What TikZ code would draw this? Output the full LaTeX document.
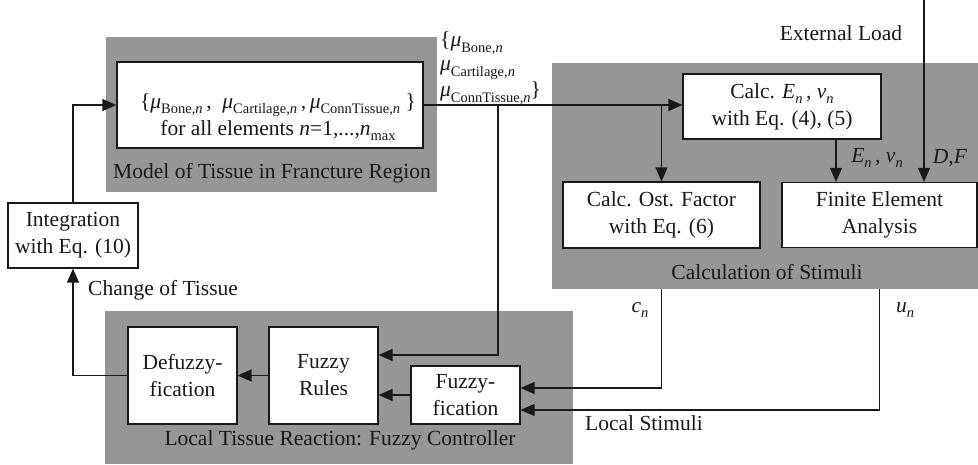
\documentclass[tikz,border=0pt]{standalone}
\usepackage{fontspec}
\setmainfont{Liberation Serif}
\usetikzlibrary{arrows.meta}
\definecolor{panelgray}{RGB}{150,150,150}
\definecolor{inkc}{RGB}{25,25,25}
% small lowered index, sized relative to the 21.5pt body text
\newcommand\subx[1]{\raisebox{-0.26em}{\fontsize{14.5}{15}\selectfont #1}}
\newcommand\itn{\textit{n}}
\begin{document}
\begin{tikzpicture}[x=1pt,y=-1pt,
  every node/.style={font=\fontsize{21.5}{27}\selectfont, text=inkc},
  panel/.style={fill=panelgray, draw=none, inner sep=0pt, anchor=north west},
  box/.style={draw=inkc, fill=white, line width=1.2pt, align=center, inner sep=0pt},
  wire/.style={draw=inkc, line width=1.3pt},
  conn/.style={wire, -{Triangle[length=14pt,width=12pt]}},
  lbl/.style={inner sep=0pt}]
\useasboundingbox (0,0) rectangle (978,464);

% shaded group panels
\node[panel, minimum width=331, minimum height=155] (panelA) at (106,37) {};
\node[panel, minimum width=426, minimum height=226] (panelB) at (552,63) {};
\node[panel, minimum width=468, minimum height=153] (panelC) at (105,311) {};

% panel captions
\node[lbl] (capA) at (272,173) {Model of Tissue in Francture Region};
\node[lbl] (capB) at (767,272) {Calculation of Stimuli};
\node[lbl] (capC) at (340,440) {Local Tissue Reaction: Fuzzy Controller};

% blocks
\node[box, minimum width=306, minimum height=86] (model) at (270,105) {};
\node[lbl, align=center] (modeltxt) at (278,117)
  {\{\textit{μ}\subx{Bone,\itn}\,,\ \ \textit{μ}\subx{Cartilage,\itn}\,,\,\textit{μ}\subx{ConnTissue,\itn}\ \}\\
   for all elements \itn=1,...,\itn\subx{max}};
\node[box, minimum width=130, minimum height=65] (integ) at (73,235.5)
  {Integration\\with Eq. (10)};
\node[box, minimum width=109, minimum height=97] (defz) at (182.5,375.5)
  {Defuzzy-\\fication};
\node[box, minimum width=109, minimum height=97] (rules) at (323.5,375.5)
  {Fuzzy\\Rules};
\node[box, minimum width=109, minimum height=58] (fuzz) at (465.5,395)
  {Fuzzy-\\fication};
\node[box, minimum width=198, minimum height=65] (calcE) at (782,106.5)
  {Calc. \textit{E}\subx{\itn}\,, \textit{ν}\subx{\itn}\\with Eq. (4), (5)};
\node[box, minimum width=197, minimum height=66] (ost) at (661.5,215)
  {Calc. Ost. Factor\\with Eq. (6)};
\node[box, minimum width=195, minimum height=65] (fea) at (879.5,215)
  {Finite Element\\Analysis};

% branch points and free ends
\coordinate (split1) at (498,105);
\coordinate (split2) at (661.5,105);
\coordinate (load) at (924,0);

% connectors
\draw[conn] (integ.north) |- (model.west);
\draw[conn] (model.east) -- (calcE.west |- model.east);
\draw[conn] (split2) -- (ost.north);
\draw[conn] (split1) |- ([yshift=20.5pt]rules.east);
\draw[conn] ([xshift=54pt]calcE.south) -- ([xshift=54pt]calcE.south |- fea.north);
\draw[conn] (load) -- (load |- fea.north);
\draw[conn] (ost.north |- panelB.south) |- ([yshift=7pt]fuzz.east);
\draw[conn] (fea.south |- panelB.south) |- ([yshift=-15pt]fuzz.east);
\draw[conn] (fuzz.west) -- (rules.east |- fuzz.west);
\draw[conn] (rules.west) -- (defz.east);
\draw[conn] (defz.west) -| (integ.south);

% signal labels
\node[lbl, anchor=west] (muA) at (440,43) {\{\textit{μ}\subx{Bone,\itn}};
\node[lbl, anchor=west] (muB) at (440,70) {\textit{μ}\subx{Cartilage,\itn}};
\node[lbl, anchor=west] (muC) at (440,93) {\textit{μ}\subx{ConnTissue,\itn}\}};
\node[lbl] (extload) at (841,33) {External Load};
\node[lbl] (enlbl) at (877,158) {\textit{E}\subx{\itn}\,, \textit{ν}\subx{\itn}};
\node[lbl] (dflbl) at (950,158) {\textit{D},\textit{F}};
\node[lbl] (cnlbl) at (640,310) {\textit{c}\subx{\itn}};
\node[lbl] (unlbl) at (905,310) {\textit{u}\subx{\itn}};
\node[lbl, anchor=west] (locstim) at (585,423) {Local Stimuli};
\node[lbl, anchor=west] (chtissue) at (88,290) {Change of Tissue};
\end{tikzpicture}
\end{document}
